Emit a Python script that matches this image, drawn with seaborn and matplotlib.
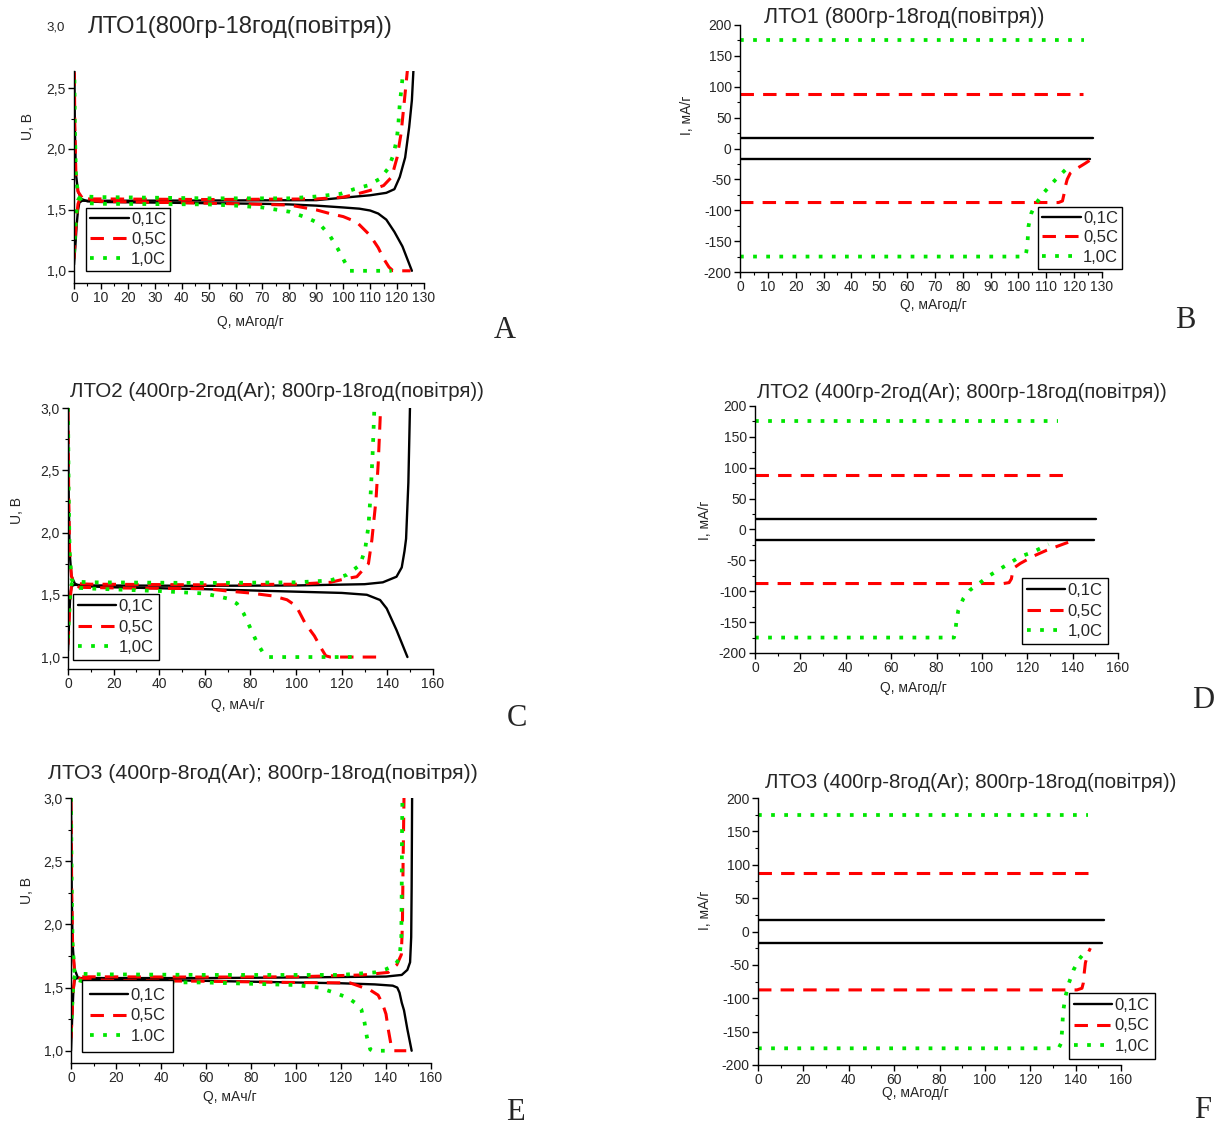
import matplotlib
matplotlib.use("Agg")
import matplotlib.pyplot as plt
from matplotlib.lines import Line2D
from matplotlib.ticker import MultipleLocator, FuncFormatter
import seaborn as sns

W, H = 1216, 1126

# ---------------- data: voltage profiles (Q, U) ----------------
# panel A  (LTO1)
qa_d01 = [0, 0.3, 0.7, 1.5, 2.7, 5, 10, 30, 50, 70, 80, 90, 100, 106, 110, 113, 116, 119, 122, 125.5]
ua_d01 = [3.0, 2.2, 1.8, 1.65, 1.59, 1.57, 1.565, 1.56, 1.555, 1.55, 1.545, 1.535, 1.52, 1.51, 1.495, 1.47, 1.42, 1.32, 1.2, 1.0]
qa_c01 = [0, 0.5, 1, 1.5, 2, 3, 10, 50, 90, 100, 110, 116, 119, 121, 123, 124.5, 125.5, 126.2]
ua_c01 = [1.05, 1.2, 1.38, 1.5, 1.56, 1.575, 1.575, 1.577, 1.58, 1.6, 1.62, 1.64, 1.67, 1.77, 1.93, 2.18, 2.4, 2.7]
qa_d05 = [0, 0.3, 0.7, 1.5, 3, 5, 10, 50, 80, 90, 95, 100, 105, 110, 113, 115, 117, 118.5, 125]
ua_d05 = [3.0, 2.2, 1.8, 1.65, 1.6, 1.58, 1.57, 1.555, 1.54, 1.5, 1.47, 1.445, 1.40, 1.29, 1.19, 1.1, 1.03, 1.0, 1.0]
qa_c05 = [0, 0.5, 1, 1.5, 2, 3, 10, 50, 90, 100, 105, 110, 115, 118, 120, 121.5, 122.5, 123.5, 124.5]
ua_c05 = [1.1, 1.3, 1.45, 1.55, 1.58, 1.59, 1.59, 1.585, 1.59, 1.605, 1.63, 1.66, 1.70, 1.77, 1.93, 2.13, 2.35, 2.57, 2.8]
qa_d10 = [0, 0.3, 0.7, 1.5, 3, 5, 10, 50, 60, 70, 80, 86, 91, 95, 98, 101, 102.5, 118]
ua_d10 = [3.0, 2.2, 1.8, 1.62, 1.57, 1.555, 1.55, 1.545, 1.535, 1.52, 1.485, 1.44, 1.39, 1.29, 1.18, 1.055, 1.0, 1.0]
qa_c10 = [0, 0.5, 1, 1.5, 2, 4, 10, 50, 80, 90, 99, 104, 109, 113.6, 116.7, 118.6, 119.8, 120.4, 121, 121.7, 122.3]
ua_c10 = [1.15, 1.35, 1.5, 1.58, 1.6, 1.61, 1.605, 1.595, 1.595, 1.61, 1.632, 1.67, 1.70, 1.755, 1.84, 1.95, 2.07, 2.18, 2.37, 2.51, 2.65]

# panel C  (LTO2)
qc_d01 = [0, 0.3, 0.7, 1.5, 3, 5, 20, 60, 100, 120, 131, 136.8, 139.7, 144, 148.8]
uc_d01 = [3.0, 2.3, 1.85, 1.65, 1.59, 1.57, 1.56, 1.545, 1.525, 1.515, 1.50, 1.458, 1.39, 1.217, 1.0]
qc_c01 = [0, 0.5, 1, 1.5, 2, 3, 10, 60, 100, 130, 138, 144, 146.3, 147.5, 148.2, 149.2, 149.9]
uc_c01 = [1.05, 1.3, 1.5, 1.56, 1.575, 1.58, 1.575, 1.572, 1.575, 1.585, 1.6, 1.645, 1.72, 1.85, 1.95, 2.4, 3.0]
qc_d05 = [0, 0.3, 0.7, 1.5, 3, 5, 20, 60, 70, 80, 90, 96, 100, 104, 108, 111, 113, 115, 138]
uc_d05 = [3.0, 2.3, 1.85, 1.65, 1.58, 1.56, 1.555, 1.55, 1.53, 1.514, 1.49, 1.46, 1.41, 1.27, 1.17, 1.07, 1.01, 1.0, 1.0]
qc_c05 = [0, 0.5, 1, 1.5, 2, 3, 10, 60, 100, 115, 122, 126.6, 131.7, 133.2, 135, 136, 136.8, 137]
uc_c05 = [1.1, 1.3, 1.48, 1.56, 1.58, 1.59, 1.585, 1.58, 1.585, 1.6, 1.63, 1.645, 1.75, 1.94, 2.26, 2.56, 2.9, 3.0]
qc_d10 = [0, 0.3, 0.7, 1.5, 3, 5, 10, 40, 60, 70, 74, 77, 80, 83, 86, 88, 128]
uc_d10 = [3.0, 2.3, 1.85, 1.63, 1.57, 1.555, 1.55, 1.53, 1.51, 1.47, 1.43, 1.35, 1.23, 1.11, 1.02, 1.0, 1.0]
qc_c10 = [0, 0.5, 1, 1.5, 2, 4, 10, 60, 100, 115, 122.2, 128, 130.2, 131.7, 132.7, 133.6, 134.3]
uc_c10 = [1.15, 1.35, 1.52, 1.58, 1.6, 1.605, 1.6, 1.595, 1.6, 1.615, 1.66, 1.74, 1.86, 2.05, 2.32, 2.66, 3.0]

# panel E  (LTO3)
qe_d01 = [0, 0.3, 0.7, 1.5, 3, 5, 20, 60, 100, 120, 135, 143, 145, 146, 147, 148, 149.5, 151.4]
ue_d01 = [3.0, 2.3, 1.85, 1.65, 1.58, 1.57, 1.566, 1.553, 1.54, 1.534, 1.525, 1.515, 1.50, 1.46, 1.38, 1.32, 1.17, 1.0]
qe_c01 = [0, 0.5, 1, 1.5, 2, 3, 10, 60, 100, 140, 147, 149.5, 150.7, 151.2, 151.4, 151.6]
ue_c01 = [1.0, 1.25, 1.45, 1.55, 1.57, 1.575, 1.575, 1.575, 1.58, 1.587, 1.6, 1.64, 1.7, 1.9, 2.3, 3.0]
qe_d05 = [0, 0.3, 0.7, 1.5, 3, 5, 20, 60, 100, 124, 133, 136.5, 138.5, 140, 141, 142.5, 143.5, 149]
ue_d05 = [3.0, 2.3, 1.85, 1.65, 1.58, 1.565, 1.555, 1.55, 1.54, 1.537, 1.48, 1.44, 1.37, 1.29, 1.17, 1.02, 1.0, 1.0]
qe_c05 = [0, 0.5, 1, 1.5, 2, 3, 10, 60, 100, 130, 141, 144.8, 146.8, 147.3, 147.6, 148]
ue_c05 = [1.1, 1.3, 1.48, 1.56, 1.58, 1.585, 1.585, 1.583, 1.585, 1.6, 1.62, 1.68, 1.76, 2.0, 2.5, 3.0]
qe_d10 = [0, 0.3, 0.7, 1.5, 3, 5, 10, 60, 100, 110, 117, 123, 127, 129, 130.5, 131.5, 133, 134, 141]
ue_d10 = [3.0, 2.3, 1.85, 1.63, 1.56, 1.55, 1.545, 1.54, 1.52, 1.5, 1.46, 1.42, 1.37, 1.33, 1.22, 1.11, 1.01, 1.0, 1.0]
qe_c10 = [0, 0.5, 1, 1.5, 2, 4, 10, 60, 120, 135, 140, 144, 146, 146.8, 147, 147.1, 147.3]
ue_c10 = [1.15, 1.35, 1.52, 1.58, 1.6, 1.61, 1.605, 1.6, 1.6, 1.62, 1.645, 1.68, 1.73, 1.9, 2.3, 2.7, 3.0]

# ---------------- data: current profiles (Q, I) ----------------
qb_c01, ib_c01 = [0, 126.8], [17.5, 17.5]
qb_d01, ib_d01 = [0, 125.8], [-17.5, -17.5]
qb_c05, ib_c05 = [0, 123.2], [87.5, 87.5]
qb_d05 = [0, 114.4, 115.8, 116.3, 116.8, 117.5, 118.6, 120.3, 122.2, 124, 125.5]
ib_d05 = [-87.5, -87.5, -85, -75, -62, -50, -40, -34, -29, -24, -19.5]
qb_c10, ib_c10 = [0, 123.4], [175, 175]
qb_d10 = [0, 102.4, 102.8, 103.2, 103.6, 104.6, 106, 109, 113.2, 117.4, 119.2]
ib_d10 = [-175, -175, -168, -156, -126, -105, -91, -72, -51, -32, -26]

qd_c01, id_c01 = [0, 150.4], [17.5, 17.5]
qd_d01, id_d01 = [0, 149.3], [-17.5, -17.5]
qd_c05, id_c05 = [0, 137.5], [87.5, 87.5]
qd_d05 = [0, 109.5, 112, 113, 113.5, 114.2, 116.9, 122.8, 128.6, 134.5, 139.7]
id_d05 = [-87.5, -87.5, -86, -80, -70, -62, -55, -43, -33.5, -25.5, -18.5]
qd_c10, id_c10 = [0, 133.4], [175, 175]
qd_d10 = [0, 87.7, 88.3, 88.8, 89.6, 91.8, 94.8, 98.5, 103.6, 109.5, 116.9, 122.8, 129.4]
id_d10 = [-175, -175, -165, -148, -131, -112, -98, -88, -74, -60.5, -44, -36, -24]

qf_c01, if_c01 = [0, 152.4], [17.5, 17.5]
qf_d01, if_d01 = [0, 151.6], [-17.5, -17.5]
qf_c05, if_c05 = [0, 148.4], [87.5, 87.5]
qf_d05 = [0, 140.6, 142.8, 143.4, 143.8, 144.3, 145.2, 145.8, 146.5]
if_d05 = [-87.5, -87.5, -85, -77, -62, -47, -36, -30, -25]
qf_c10, if_c10 = [0, 145.5], [175, 175]
qf_d10 = [0, 132.5, 133.5, 134, 134.5, 135.5, 137, 139.1, 141.3, 144.3]
if_d10 = [-175, -175, -168, -150, -120, -97.5, -77.5, -57.5, -42.5, -30]

labels_std = ["0,1C", "0,5C", "1,0C"]
labels_e = ["0,1C", "0,5C", "1.0C"]

# ---------------- style ----------------
sns.set_style("ticks")
plt.rcParams['font.family'] = ['Liberation Sans', 'DejaVu Sans']

GREEN = "#00e600"
RED = "#ff0000"
st = [dict(color="black", linewidth=1.7, linestyle="-"),
      dict(color=RED, linewidth=2.2, linestyle=(0, (4.4, 3.0))),
      dict(color=GREEN, linewidth=2.7, linestyle=(0, (1.0, 2.5)))]


def fx(x):
    return x / W


def fy(y):
    return 1 - y / H


def make_axes(l, t, r, b):
    ax = fig.add_axes([fx(l), fy(b), (r - l) / W, (b - t) / H])
    sns.despine(ax=ax)
    for s in ["left", "bottom"]:
        ax.spines[s].set_linewidth(1.0)
        ax.spines[s].set_color("black")
    ax.tick_params(which="major", direction="out", length=4, width=1,
                   labelsize=10, pad=2, color="black")
    ax.tick_params(which="minor", direction="out", length=2.5, width=0.8,
                   color="black")
    return ax


def draw(ax, curves):
    # curves: list of (q, v, style index)
    for q, v, k in curves:
        sns.lineplot(x=q, y=v, ax=ax, sort=False, estimator=None, **st[k])


def add_legend(ax, x0, y0, labels, sp=0.33, bp=0.3):
    hs = [Line2D([], [], **st[k]) for k in range(3)]
    leg = ax.legend(hs, labels, loc="upper left",
                    bbox_to_anchor=(fx(x0), fy(y0)), bbox_transform=fig.transFigure,
                    fontsize=12, frameon=True, fancybox=False, framealpha=1,
                    edgecolor="black", borderaxespad=0, borderpad=bp,
                    labelspacing=sp, handlelength=2.3, handletextpad=0.15)
    leg.get_frame().set_linewidth(1.0)


comma1 = FuncFormatter(lambda v, p: f"{v:.1f}".replace(".", ","))
intfmt = FuncFormatter(lambda v, p: f"{v:.0f}")

fig = plt.figure(figsize=(W / 100, H / 100), dpi=100)


def volt_axes(ax, xmax, xstep, ylo, yhi):
    ax.set_xlim(0, xmax)
    ax.set_ylim(ylo, yhi)
    ax.xaxis.set_major_locator(MultipleLocator(xstep))
    ax.xaxis.set_minor_locator(MultipleLocator(xstep / 2))
    ax.yaxis.set_major_locator(MultipleLocator(0.5))
    ax.yaxis.set_minor_locator(MultipleLocator(0.25))
    ax.yaxis.set_major_formatter(comma1)
    ax.set_xlabel("")
    ax.set_ylabel("")


def curr_axes(ax, xmax, xstep):
    ax.set_xlim(0, xmax)
    ax.set_ylim(-200, 200)
    ax.xaxis.set_major_locator(MultipleLocator(xstep))
    ax.xaxis.set_minor_locator(MultipleLocator(xstep / 2))
    ax.yaxis.set_major_locator(MultipleLocator(50))
    ax.yaxis.set_minor_locator(MultipleLocator(25))
    ax.yaxis.set_major_formatter(intfmt)
    ax.set_xlabel("")
    ax.set_ylabel("")


def texts(title, tpos, tfs, xlab, xpos, ylab, ypos, letter, lpos):
    fig.text(fx(tpos[0]), fy(tpos[1]), title, fontsize=tfs, ha="center", va="center")
    fig.text(fx(xpos[0]), fy(xpos[1]), xlab, fontsize=10, ha="center", va="center")
    fig.text(fx(ypos[0]), fy(ypos[1]), ylab, fontsize=10, ha="center", va="center",
             rotation=90)
    fig.text(fx(lpos[0]), fy(lpos[1]), letter, fontsize=22, ha="center", va="center",
             family="Liberation Serif")


# ---- A ----
ax = make_axes(74, 71, 424, 283)
draw(ax, [(qa_d01, ua_d01, 0), (qa_c01, ua_c01, 0),
          (qa_d05, ua_d05, 1), (qa_c05, ua_c05, 1),
          (qa_d10, ua_d10, 2), (qa_c10, ua_c10, 2)])
volt_axes(ax, 130, 10, 0.9, 2.64)
add_legend(ax, 86, 208, labels_std, sp=0.3, bp=0.25)
fig.text(fx(56), fy(27), "3,0", fontsize=9.5, ha="center", va="center")
texts("ЛТО1(800гр-18год(повітря))", (240, 27), 17.2, "Q, мАгод/г", (250, 322),
      "U, В", (28, 127), "A", (505, 330))

# ---- B ----
ax = make_axes(740, 25, 1102, 272)
draw(ax, [(qb_c01, ib_c01, 0), (qb_d01, ib_d01, 0),
          (qb_c05, ib_c05, 1), (qb_d05, ib_d05, 1),
          (qb_c10, ib_c10, 2), (qb_d10, ib_d10, 2)])
curr_axes(ax, 130, 10)
add_legend(ax, 1038, 207, labels_std, sp=0.25, bp=0.25)
texts("ЛТО1 (800гр-18год(повітря))", (904, 17), 15.5, "Q, мАгод/г", (933, 305),
      "I, мА/г", (687, 115), "B", (1185, 320))

# ---- C ----
ax = make_axes(68, 408, 433, 669)
draw(ax, [(qc_d01, uc_d01, 0), (qc_c01, uc_c01, 0),
          (qc_d05, uc_d05, 1), (qc_c05, uc_c05, 1),
          (qc_d10, uc_d10, 2), (qc_c10, uc_c10, 2)])
volt_axes(ax, 160, 20, 0.904, 3.0)
add_legend(ax, 73, 594, labels_std)
texts("ЛТО2 (400гр-2год(Ar); 800гр-18год(повітря))", (277, 391), 14.8, "Q, мАч/г",
      (238, 705), "U, В", (17, 510), "C", (517, 718))

# ---- D ----
ax = make_axes(755, 406, 1118, 653)
draw(ax, [(qd_c01, id_c01, 0), (qd_d01, id_d01, 0),
          (qd_c05, id_c05, 1), (qd_d05, id_d05, 1),
          (qd_c10, id_c10, 2), (qd_d10, id_d10, 2)])
curr_axes(ax, 160, 20)
add_legend(ax, 1022, 578, labels_std)
texts("ЛТО2 (400гр-2год(Ar); 800гр-18год(повітря))", (962, 392), 14.6, "Q, мАгод/г",
      (913, 688), "I, мА/г", (705, 520), "D", (1203, 700))

# ---- E ----
ax = make_axes(71, 798, 431, 1063)
draw(ax, [(qe_d01, ue_d01, 0), (qe_c01, ue_c01, 0),
          (qe_d05, ue_d05, 1), (qe_c05, ue_c05, 1),
          (qe_d10, ue_d10, 2), (qe_c10, ue_c10, 2)])
volt_axes(ax, 160, 20, 0.903, 3.0)
add_legend(ax, 82, 980, labels_e, sp=0.35, bp=0.45)
texts("ЛТО3 (400гр-8год(Ar); 800гр-18год(повітря))", (263, 773), 15.3, "Q, мАч/г",
      (230, 1097), "U, В", (27, 890), "E", (515, 1113))

# ---- F ----
ax = make_axes(758, 798, 1121, 1065)
draw(ax, [(qf_c01, if_c01, 0), (qf_d01, if_d01, 0),
          (qf_c05, if_c05, 1), (qf_d05, if_d05, 1),
          (qf_c10, if_c10, 2), (qf_d10, if_d10, 2)])
curr_axes(ax, 160, 20)
add_legend(ax, 1069, 993, labels_std)
texts("ЛТО3 (400гр-8год(Ar); 800гр-18год(повітря))", (971, 782), 14.7, "Q, мАгод/г",
      (915, 1093), "I, мА/г", (705, 910), "F", (1203, 1110))

fig.savefig("out.png", dpi=100)
